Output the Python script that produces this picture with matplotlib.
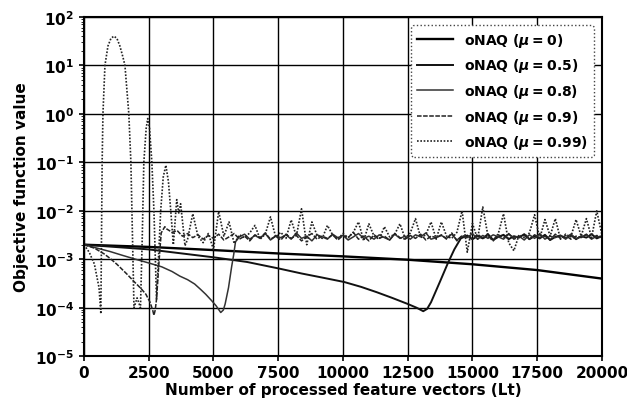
import numpy as np
import matplotlib
matplotlib.use("Agg")
import matplotlib.pyplot as plt
from matplotlib.ticker import NullFormatter

# values (noisy parts written in units of 1e-3)
mu0_x = [0, 2500, 5000, 7500, 10000, 12500, 15000, 17500, 20000]
mu0_y = [2.0e-3, 1.8e-3, 1.55e-3, 1.32e-3, 1.15e-3, 9.8e-4, 7.9e-4, 6.0e-4, 4.0e-4]

mu05_x = [0, 2500, 5000, 6300, 7500, 8400, 9200, 10050, 10700, 11300, 11900, 12500, 12850,
          13100, 13250, 13400, 13750, 14050, 14300, 14550]
mu05_y = [2.0e-3, 1.6e-3, 1.1e-3, 8.8e-4, 6.5e-4, 5.1e-4, 4.2e-4, 3.4e-4, 2.7e-4, 2.1e-4,
          1.6e-4, 1.2e-4, 1.0e-4, 8.5e-5, 9.5e-5, 1.3e-4, 3.5e-4, 8.3e-4, 1.6e-3, 2.7e-3]
mu05_noise = [3.1, 2.6, 3.0, 2.7, 3.3, 2.5, 2.9, 3.2, 2.6, 3.0,
              2.8, 3.3, 2.6, 3.0, 2.7, 3.2, 2.5, 2.9, 3.1, 2.7,
              3.2, 2.6, 3.0, 2.8, 3.3, 2.7, 3.0]  # 14800..20000

mu08_x = [0, 500, 1000, 1500, 2000, 2500, 3000, 3400, 3700, 4000, 4270, 4500, 4700, 4930,
          5100, 5280, 5380, 5450, 5580, 5700, 5780, 5850]
mu08_y = [2.0e-3, 1.7e-3, 1.45e-3, 1.2e-3, 1.0e-3, 8.4e-4, 7.0e-4, 5.6e-4, 4.5e-4, 3.8e-4,
          3.1e-4, 2.4e-4, 1.9e-4, 1.4e-4, 1.1e-4, 8.0e-5, 9.0e-5, 1.2e-4, 2.6e-4, 7.0e-4,
          1.25e-3, 2.3e-3]
mu08_noise = [2.9, 3.3, 2.6, 3.1, 2.7, 3.4, 2.5, 3.0, 2.8, 3.2,
              2.6, 3.5, 2.7, 3.0, 2.4, 3.2, 2.9, 2.6, 3.3, 2.8,
              3.1, 2.5, 2.9, 3.4, 2.7, 3.0, 2.6, 3.2, 2.8, 2.5,
              3.3, 2.7, 3.0, 2.6, 3.2, 2.9, 3.5, 2.6, 2.8, 3.1,
              2.7, 3.3, 2.5, 3.0, 2.8, 3.4, 2.6, 3.1, 2.7, 3.2,
              2.9, 2.6, 3.3, 2.8, 3.0, 2.5, 3.2, 2.7, 3.4, 2.6,
              3.0, 2.8, 3.1, 2.6, 3.3, 2.7, 2.9, 3.2, 2.6, 3.0,
              2.8]  # 6000..20000

mu09_x = [0, 400, 770, 1000, 1270, 1650, 1925, 2200, 2390, 2550, 2650, 2700, 2750, 2800,
          2890, 2980, 3120]
mu09_y = [2.0e-3, 1.7e-3, 1.3e-3, 1.05e-3, 7.9e-4, 5.0e-4, 3.5e-4, 2.5e-4, 1.9e-4, 1.3e-4,
          9.0e-5, 7.0e-5, 9.0e-5, 1.5e-4, 8.0e-4, 3.5e-3, 4.7e-3]
mu09_noise = [4.2, 3.6, 3.9, 3.0, 3.4, 2.8, 3.2, 2.6, 3.1, 2.7,
              3.3, 2.5, 2.9, 3.4, 2.6, 3.0, 2.4, 3.2, 2.8, 3.5,
              2.6, 3.0, 2.5, 3.3, 2.7, 3.1, 2.4, 2.9, 3.4, 2.6,
              3.0, 2.7, 3.2, 2.5, 3.1, 2.8, 3.6, 2.6, 3.0, 2.4,
              3.2, 2.7, 3.0, 2.5, 3.4, 2.8, 2.6, 3.1, 2.7, 3.3,
              2.5, 3.0, 2.8, 3.2, 2.6, 3.5, 2.4, 3.1, 2.9, 2.6,
              3.3, 2.7, 3.0, 2.5, 3.2, 2.8, 3.4, 2.6, 2.9, 3.1,
              2.6, 3.2, 2.8, 3.0, 2.5, 3.3, 2.7, 3.1, 2.6, 3.0,
              2.8, 3.3, 2.7, 3.1, 2.9]  # 3200..20000

mu099_x = [0, 200, 400, 580, 650, 700, 731, 808, 924, 1040, 1155, 1270, 1386, 1500, 1580,
           1730, 1810, 1850, 1930, 2050, 2180, 2250, 2310, 2400, 2460, 2530, 2620, 2700,
           2800, 2900, 2960, 3060, 3160, 3260, 3350, 3450, 3580, 3660, 3730, 3820, 3900]
mu099_y = [2e-3, 1.4e-3, 8e-4, 2.6e-4, 7.5e-5, 0.1, 1.0, 10, 25, 36, 40, 36, 25, 15, 10,
           1.0, 0.1, 0.01, 1e-4, 1.6e-4, 1e-4, 3e-3, 0.1, 0.5, 0.8, 0.5, 0.1, 0.01,
           1.5e-4, 2e-3, 0.01, 0.05, 0.087, 0.04, 0.01, 2e-3, 0.017, 9e-3, 0.014, 5e-3, 1.9e-3]
mu099_noise = [2.6, 8.7, 3.0, 2.2, 3.4, 1.6, 9.7, 3.0, 5.9, 2.1,
               3.2, 2.8, 3.5, 5.0, 2.6, 3.3, 7.5, 2.9, 3.6, 2.7,
               6.5, 3.0, 11.0, 2.0, 5.9, 3.1, 2.7, 5.0, 3.2, 2.6,
               3.4, 2.8, 3.6, 5.9, 2.4, 5.4, 3.0, 2.6, 4.7, 2.9,
               3.3, 5.4, 2.7, 3.5, 6.9, 2.8, 3.2, 5.9, 2.6, 5.9,
               3.0, 2.7, 3.6, 10.0, 1.4, 5.5, 2.6, 12.0, 3.0, 2.4,
               3.4, 8.7, 2.2, 1.5, 3.2, 2.8, 3.5, 8.3, 2.7, 6.6,
               3.0, 6.9, 2.6, 3.3, 2.9, 6.6, 3.0, 6.9, 2.8, 10.0,
               3.2]  # 4000..20000

y_ticks = [1e-5, 1e-4, 1e-3, 1e-2, 1e-1, 1e0, 1e1, 1e2]
x_ticks = [0, 2500, 5000, 7500, 10000, 12500, 15000, 17500, 20000]


def join(x, y, start, noise):
    nx = list(range(start, 20001, 200))
    return x + nx, y + [v * 1e-3 for v in noise]


series = [
    ("oNAQ ($\\mu = 0$)", mu0_x, mu0_y, dict(color="black", lw=1.7, ls="-")),
    ("oNAQ ($\\mu = 0.5$)", *join(mu05_x, mu05_y, 14800, mu05_noise), dict(color="#111111", lw=1.4, ls="-")),
    ("oNAQ ($\\mu = 0.8$)", *join(mu08_x, mu08_y, 6000, mu08_noise), dict(color="#333333", lw=1.1, ls="-")),
    ("oNAQ ($\\mu = 0.9$)", *join(mu09_x, mu09_y, 3200, mu09_noise), dict(color="#222222", lw=1.1, ls=(0, (3, 1)))),
    ("oNAQ ($\\mu = 0.99$)", *join(mu099_x, mu099_y, 4000, mu099_noise), dict(color="#222222", lw=1.2, ls=(0, (1, 1)))),
]

plt.rcParams["font.family"] = "DejaVu Sans"
plt.rcParams["font.weight"] = "bold"
plt.rcParams["mathtext.default"] = "it"

fig = plt.figure(figsize=(6.27, 4.06), dpi=100)
ax = fig.add_axes([0.134, 0.12, 0.826, 0.836])

for label, x, y, st in series:
    ax.plot(x, y, label=label, **st)

ax.set_yscale("log")
ax.set_yticks(y_ticks)
ax.set_ylim(1e-5, 1e2)
ax.set_xticks(x_ticks)
ax.set_xlim(0, 20000)
ax.yaxis.set_minor_formatter(NullFormatter())
ax.grid(True, which="major", color="black", lw=1.0)
ax.tick_params(labelsize=11, width=1.2)
ax.tick_params(axis="x", pad=3)
for s in ax.spines.values():
    s.set_linewidth(1.5)

ax.set_xlabel("Number of processed feature vectors (Lt)", fontsize=11, fontweight="bold", labelpad=1)
ax.set_ylabel("Objective function value", fontsize=11, fontweight="bold")

leg = ax.legend(loc="upper right", fontsize=10, framealpha=1, fancybox=True,
                borderaxespad=0.6, handlelength=2.6, borderpad=0.4, labelspacing=0.55)
leg.get_frame().set_edgecolor("#444444")
leg.get_frame().set_linestyle(":")
leg.get_frame().set_linewidth(1.0)

fig.savefig("out.png", dpi=100)
